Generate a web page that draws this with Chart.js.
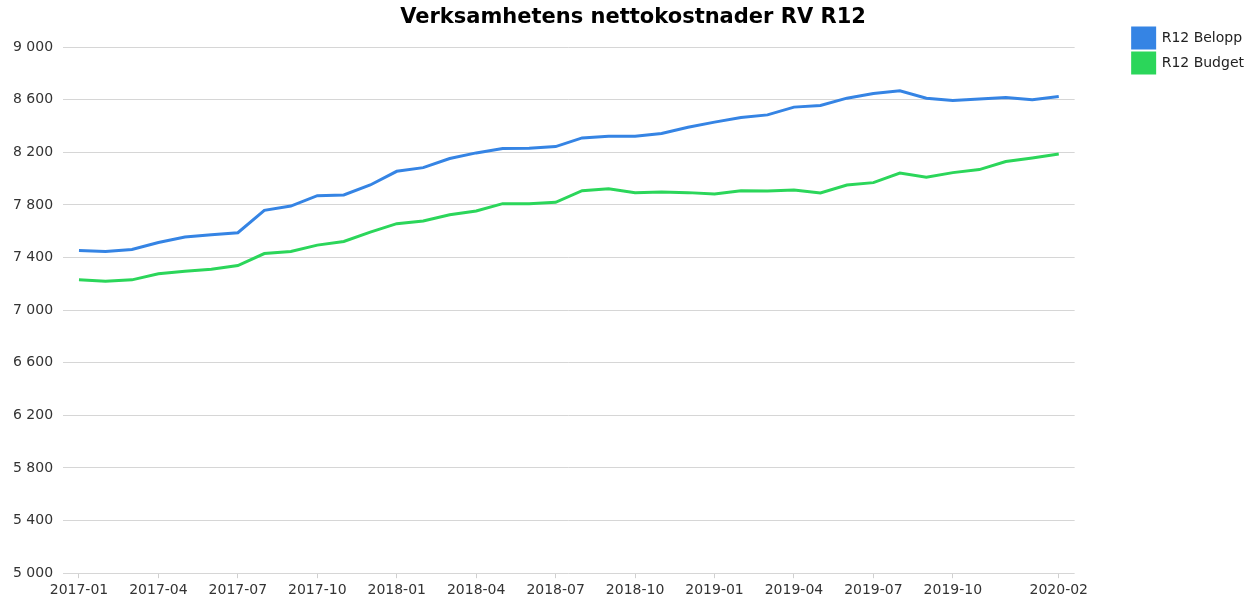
<!DOCTYPE html>
<html>
<head>
<meta charset="utf-8">
<script src="https://cdn.jsdelivr.net/npm/chart.js@4"></script>
<style>
  html, body { margin: 0; padding: 0; background: #ffffff; }
  #wrap { width: 1247px; height: 597px; }
</style>
</head>
<body>
<div id="wrap"><canvas id="c" width="1247" height="597"></canvas></div>
<script>
const months = [
  "2017-01","2017-02","2017-03","2017-04","2017-05","2017-06","2017-07","2017-08","2017-09","2017-10","2017-11","2017-12",
  "2018-01","2018-02","2018-03","2018-04","2018-05","2018-06","2018-07","2018-08","2018-09","2018-10","2018-11","2018-12",
  "2019-01","2019-02","2019-03","2019-04","2019-05","2019-06","2019-07","2019-08","2019-09","2019-10","2019-11","2019-12",
  "2020-01","2020-02"
];
const belopp = [
  7453, 7446, 7461, 7514, 7555, 7573, 7588, 7758, 7791, 7870, 7875, 7951,
  8055, 8083, 8152, 8195, 8228, 8230, 8243, 8309, 8322, 8322, 8342, 8390,
  8429, 8464, 8484, 8543, 8556, 8611, 8647, 8667, 8611, 8594, 8604, 8617,
  8599, 8624
];
const budget = [
  7230, 7220, 7230, 7276, 7296, 7311, 7339, 7430, 7446, 7494, 7522, 7593,
  7657, 7677, 7725, 7753, 7809, 7809, 7819, 7908, 7923, 7893, 7898, 7893,
  7883, 7908, 7905, 7913, 7890, 7951, 7969, 8042, 8010, 8045, 8068, 8129,
  8157, 8187
];
const seriesNames = ["R12 Belopp", "R12 Budget"];
const yTicks = { min: 5000, max: 9000, step: 400 };

function fmt(v) {
  return String(Math.round(v)).replace(/\B(?=(\d{3})+(?!\d))/g, " ");
}
function shownLabel(i) {
  return (i % 3 === 0 && i < months.length - 2) || i === months.length - 1;
}

const font = "'DejaVu Sans', Verdana, sans-serif";

// Shift the legend and title blocks after layout (legend sits further right/up,
// title a bit right of the full-width centre).
const placeBlocks = {
  id: 'placeBlocks',
  afterLayout(chart) {
    const L = chart.legend;
    if (L) {
      const w = L.width, h = L.height;
      L.left = chart.chartArea.right + 53;
      L.right = L.left + w;
      L.top = 23;
      L.bottom = L.top + h;
    }
    const T = chart.titleBlock;
    if (T) {
      T.left += 31;
      T.right += 31;
    }
  }
};

new Chart(document.getElementById('c'), {
  type: 'line',
  data: {
    datasets: [
      {
        label: seriesNames[0],
        data: belopp.map((v, i) => ({ x: i, y: v })),
        borderColor: '#3584e4',
        backgroundColor: '#3584e4',
        borderWidth: 3,
        pointRadius: 0,
        tension: 0,
        fill: false
      },
      {
        label: seriesNames[1],
        data: budget.map((v, i) => ({ x: i, y: v })),
        borderColor: '#2bd65a',
        backgroundColor: '#2bd65a',
        borderWidth: 3,
        pointRadius: 0,
        tension: 0,
        fill: false
      }
    ]
  },
  plugins: [placeBlocks],
  options: {
    responsive: false,
    animation: false,
    devicePixelRatio: 1,
    layout: { padding: { left: 3, right: 46, top: 0, bottom: -6 } },
    plugins: {
      title: {
        display: true,
        text: 'Verksamhetens nettokostnader RV R12',
        color: '#000000',
        font: { family: font, size: 21, weight: 'bold', lineHeight: 1.2 },
        padding: { top: 5.4, bottom: 16.4 }
      },
      legend: {
        position: 'right',
        align: 'start',
        labels: {
          boxWidth: 22,
          boxHeight: 20,
          color: '#222222',
          font: { family: font, size: 14 },
          padding: 5
        }
      },
      tooltip: { enabled: false }
    },
    scales: {
      x: {
        type: 'linear',
        min: -0.6,
        max: months.length - 1 + 0.6,
        afterBuildTicks: function (scale) {
          scale.ticks = months.map((m, i) => ({ value: i })).filter(t => shownLabel(t.value));
        },
        grid: {
          drawOnChartArea: false,
          drawTicks: true,
          tickLength: 5,
          color: '#d0d0d0'
        },
        border: { display: false },
        ticks: {
          autoSkip: false,
          maxRotation: 0,
          color: '#333333',
          font: { family: font, size: 14 },
          padding: 4,
          callback: function (v) {
            return months[v];
          }
        }
      },
      y: {
        min: yTicks.min,
        max: yTicks.max,
        grid: { color: '#d6d6d6', drawTicks: false, lineWidth: 1 },
        border: { display: false },
        ticks: {
          stepSize: yTicks.step,
          color: '#333333',
          font: { family: font, size: 14 },
          padding: 10,
          callback: v => fmt(v)
        }
      }
    }
  }
});
</script>
</body>
</html>
